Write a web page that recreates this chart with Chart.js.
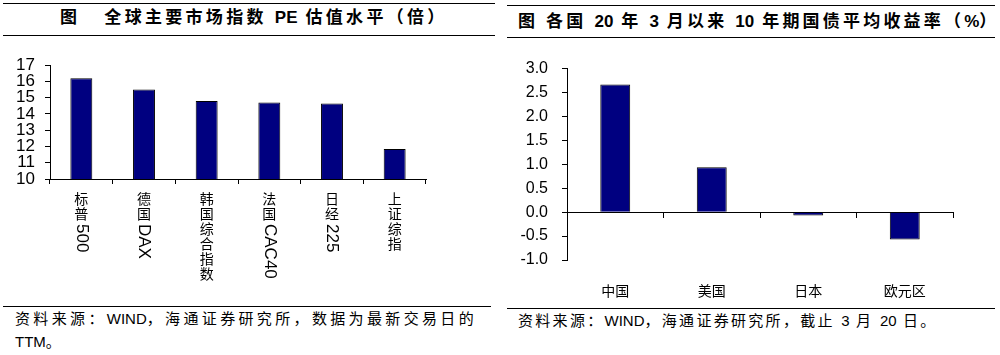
<!DOCTYPE html>
<html>
<head>
<meta charset="utf-8">
<script src="https://cdn.jsdelivr.net/npm/chart.js"></script>
<style>
  body { margin: 0; background: #fff; width: 1000px; height: 355px; position: relative; overflow: hidden;
         font-family: "Liberation Sans", "Noto Sans CJK SC", sans-serif; color: #000; }
  .rule { position: absolute; height: 0; border-top: 1.5px solid #000; }
  .title { position: absolute; font-weight: bold; font-size: 17px; white-space: nowrap; line-height: 20px; }
  .src { position: absolute; font-size: 15px; white-space: nowrap; line-height: 23px; }
  .box { position: absolute; }
  .lat { letter-spacing: 0; }
</style>
</head>
<body>
  <div class="rule" style="left:3px;width:492px;top:3px"></div>
  <div class="title" style="left:60px;top:8px;letter-spacing:3.3px">图&nbsp;&nbsp;&nbsp;全球主要市场指数 <span class="lat">PE</span> 估值水平（倍）</div>
  <div class="rule" style="left:3px;width:492px;top:35px"></div>
  <div class="box" style="left:0;top:45px;width:500px;height:260px"><canvas id="peChart"></canvas></div>
  <div class="rule" style="left:3px;width:488px;top:306px"></div>
  <div class="src" style="left:15px;top:307px;letter-spacing:3.35px">资料来源：<span class="lat">WIND</span>，海通证券研究所，数据为最新交易日的<br><span class="lat">TTM</span>。</div>

  <div class="rule" style="left:507px;width:488px;top:5px"></div>
  <div class="title" style="left:518px;top:12px;letter-spacing:3.2px">图 各国 <span class="lat">20</span> 年 <span class="lat">3</span> 月以来 <span class="lat">10</span> 年期国债平均收益率（<span class="lat">%</span>）</div>
  <div class="rule" style="left:507px;width:488px;top:37px"></div>
  <div class="box" style="left:500px;top:45px;width:500px;height:260px"><canvas id="bondChart"></canvas></div>
  <div class="rule" style="left:507px;width:488px;top:308px"></div>
  <div class="src" style="left:518px;top:309px;letter-spacing:2.3px">资料来源：<span class="lat">WIND</span>，海通证券研究所，截止 <span class="lat">3</span> 月 <span class="lat">20</span> 日。</div>

<script>
// left chart: PE of major indices
var peLabels = ['标普500', '德国DAX', '韩国综合指数', '法国CAC40', '日经225', '上证综指'];
var peValues = [16.2, 15.5, 14.8, 14.7, 14.65, 11.85];
var peMin = 10, peMax = 17, peStep = 1;

// right chart: 10y government bond average yield since March
var bondLabels = ['中国', '美国', '日本', '欧元区'];
var bondValues = [2.67, 0.94, -0.07, -0.57];
var bondMin = -1, bondMax = 3, bondStep = 0.5;

var navy = '#000080';

// draws the stacked vertical category labels under the left chart
var verticalLabels = {
  id: 'verticalLabels',
  afterDraw: function(chart) {
    var ctx = chart.ctx;
    var xs = chart.scales.x;
    ctx.save();
    ctx.fillStyle = '#000';
    peLabels.forEach(function(lbl, i) {
      var x = xs.getPixelForValue(i);
      var y = xs.top + 14;
      var parts = lbl.match(/[\u4e00-\u9fa5]|[A-Za-z0-9]+/g);
      parts.forEach(function(p) {
        if (/[\u4e00-\u9fa5]/.test(p)) {
          ctx.font = '14px "Noto Sans CJK SC"';
          ctx.textAlign = 'center';
          ctx.textBaseline = 'top';
          ctx.fillText(p, x, y - 1);
          y += 15;
        } else {
          ctx.font = '17px "Liberation Sans"';
          var w = ctx.measureText(p).width;
          ctx.save();
          ctx.translate(x, y + 1);
          ctx.rotate(Math.PI / 2);
          ctx.textAlign = 'left';
          ctx.textBaseline = 'middle';
          ctx.fillText(p, 0, 0);
          ctx.restore();
          y += w + 3;
        }
      });
    });
    ctx.restore();
  }
};

var axisGrid = { drawOnChartArea: false, tickLength: 5, color: '#000', lineWidth: 1 };

new Chart(document.getElementById('peChart'), {
  type: 'bar',
  data: {
    labels: peLabels,
    datasets: [{
      data: peValues,
      backgroundColor: navy,
      borderColor: '#000',
      borderWidth: 1,
      barPercentage: 0.35,
      categoryPercentage: 1
    }]
  },
  options: {
    responsive: true,
    maintainAspectRatio: false,
    animation: false,
    devicePixelRatio: 1,
    layout: { padding: { top: 15, right: 74, left: 0, bottom: 0 } },
    plugins: { legend: { display: false }, tooltip: { enabled: false } },
    scales: {
      x: {
        offset: true,
        ticks: { display: false },
        grid: Object.assign({ offset: true }, axisGrid),
        border: { color: '#000' },
        afterFit: function(s) { s.height = 126; }
      },
      y: {
        min: peMin, max: peMax,
        ticks: { stepSize: peStep, autoSkip: false, color: '#000', padding: 10,
                 font: { family: 'Liberation Sans', size: 17 } },
        grid: axisGrid,
        border: { color: '#000' },
        afterFit: function(s) { s.width = 50; }
      }
    }
  },
  plugins: [verticalLabels]
});

new Chart(document.getElementById('bondChart'), {
  type: 'bar',
  data: {
    labels: bondLabels,
    datasets: [{
      data: bondValues,
      xAxisID: 'x',
      backgroundColor: navy,
      borderColor: '#000',
      borderWidth: 1,
      barPercentage: 0.31,
      categoryPercentage: 1
    }]
  },
  options: {
    responsive: true,
    maintainAspectRatio: false,
    animation: false,
    devicePixelRatio: 1,
    layout: { padding: { top: 17, right: 47, left: 0, bottom: 0 } },
    plugins: { legend: { display: false }, tooltip: { enabled: false } },
    scales: {
      x: {
        position: { y: 0 },
        offset: true,
        ticks: { display: false },
        grid: Object.assign({ offset: true }, axisGrid),
        border: { color: '#000' }
      },
      x2: {
        type: 'category',
        labels: bondLabels,
        position: 'bottom',
        offset: true,
        grid: { display: false },
        border: { display: false },
        ticks: { color: '#000', padding: 14, maxRotation: 0,
                 font: { family: 'Noto Sans CJK SC', size: 14 } },
        afterFit: function(s) { s.height = 45; }
      },
      y: {
        min: bondMin, max: bondMax,
        ticks: { stepSize: bondStep, autoSkip: false, color: '#000', padding: 14,
                 font: { family: 'Liberation Sans', size: 16 },
                 callback: function(v) { return Number(v).toFixed(1); } },
        grid: axisGrid,
        border: { color: '#000' },
        afterFit: function(s) { s.width = 67; }
      }
    }
  }
});
</script>
</body>
</html>
